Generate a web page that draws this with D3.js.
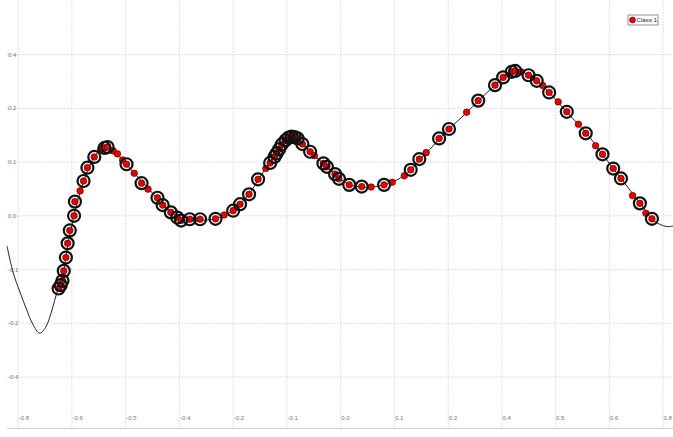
<!DOCTYPE html>
<html>
<head>
<meta charset="utf-8">
<script src="https://cdn.jsdelivr.net/npm/d3@7"></script>
<style>
  body { margin: 0; background: #fff; }
  svg { display: block; font-family: "Liberation Sans", Arial, sans-serif; }
</style>
</head>
<body>
<svg id="chart" width="673" height="437"></svg>
<script>
// tick positions and the labels the chart prints for them
const xTicks = [-0.75, -0.625, -0.5, -0.375, -0.25, -0.125, 0, 0.125, 0.25, 0.375, 0.5, 0.625, 0.75];
const xTickLabels = ["-0.8", "-0.6", "-0.5", "-0.4", "-0.2", "-0.1", "0.0", "0.1", "0.2", "0.4", "0.5", "0.6", "0.8"];
const yTicks = [0.375, 0.25, 0.125, 0, -0.125, -0.25, -0.375];
const yTickLabels = ["0.4", "0.2", "0.1", "0.0", "-0.1", "-0.2", "-0.4"];

// fitted curve
const curveX = [-0.776, -0.762, -0.746, -0.730, -0.716, -0.700, -0.686, -0.674, -0.665, -0.657, -0.646, -0.639, -0.634, -0.627, -0.620, -0.613, -0.604, -0.595, -0.583, -0.572, -0.558, -0.544, -0.530, -0.509, -0.481, -0.448, -0.416, -0.392, -0.371, -0.351, -0.327, -0.292, -0.271, -0.251, -0.232, -0.213, -0.192, -0.174, -0.155, -0.137, -0.123, -0.111, -0.099, -0.083, -0.062, -0.039, -0.013, 0.019, 0.050, 0.073, 0.101, 0.122, 0.147, 0.164, 0.185, 0.208, 0.231, 0.252, 0.292, 0.320, 0.359, 0.380, 0.399, 0.413, 0.429, 0.457, 0.485, 0.524, 0.571, 0.608, 0.652, 0.697, 0.724, 0.743, 0.759, 0.773];
const curveY = [-0.070, -0.131, -0.177, -0.219, -0.252, -0.273, -0.259, -0.228, -0.196, -0.170, -0.138, -0.096, -0.063, -0.031, 0.002, 0.032, 0.060, 0.088, 0.118, 0.139, 0.154, 0.160, 0.153, 0.132, 0.100, 0.065, 0.027, 0.007, -0.007, -0.012, -0.011, -0.007, 0.001, 0.012, 0.030, 0.051, 0.083, 0.111, 0.139, 0.167, 0.181, 0.184, 0.181, 0.162, 0.140, 0.121, 0.096, 0.073, 0.067, 0.067, 0.072, 0.079, 0.093, 0.107, 0.132, 0.155, 0.181, 0.202, 0.239, 0.267, 0.304, 0.323, 0.334, 0.337, 0.332, 0.314, 0.287, 0.243, 0.193, 0.144, 0.087, 0.029, -0.007, -0.020, -0.025, -0.024];

// Class 1 samples; ringed = 1 when the sample has the black ring
const pointsX = [-0.656, -0.651, -0.647, -0.644, -0.639, -0.635, -0.630, -0.620, -0.618, -0.606, -0.598, -0.589, -0.573, -0.558, -0.549, -0.542, -0.529, -0.519, -0.507, -0.498, -0.480, -0.463, -0.448, -0.426, -0.414, -0.395, -0.380, -0.371, -0.351, -0.327, -0.291, -0.271, -0.250, -0.234, -0.213, -0.192, -0.174, -0.164, -0.154, -0.149, -0.143, -0.137, -0.128, -0.121, -0.114, -0.107, -0.100, -0.089, -0.071, -0.061, -0.040, -0.032, -0.013, -0.004, 0.020, 0.049, 0.071, 0.101, 0.120, 0.148, 0.163, 0.183, 0.199, 0.229, 0.252, 0.293, 0.320, 0.359, 0.378, 0.398, 0.406, 0.420, 0.437, 0.456, 0.470, 0.485, 0.506, 0.526, 0.553, 0.570, 0.593, 0.609, 0.634, 0.652, 0.679, 0.696, 0.710, 0.724];
const pointsY = [-0.169, -0.161, -0.151, -0.128, -0.097, -0.064, -0.034, 0.000, 0.033, 0.058, 0.081, 0.112, 0.137, 0.155, 0.158, 0.160, 0.151, 0.144, 0.130, 0.120, 0.099, 0.076, 0.062, 0.042, 0.025, 0.008, -0.004, -0.011, -0.008, -0.008, -0.007, 0.002, 0.012, 0.027, 0.050, 0.085, 0.110, 0.123, 0.137, 0.145, 0.155, 0.166, 0.176, 0.182, 0.184, 0.183, 0.180, 0.167, 0.149, 0.140, 0.122, 0.114, 0.097, 0.086, 0.072, 0.068, 0.067, 0.072, 0.078, 0.093, 0.107, 0.132, 0.147, 0.180, 0.202, 0.241, 0.268, 0.304, 0.322, 0.335, 0.337, 0.335, 0.327, 0.314, 0.303, 0.287, 0.265, 0.242, 0.213, 0.192, 0.163, 0.143, 0.110, 0.087, 0.047, 0.029, 0.006, -0.007];
const ringed = [1, 1, 1, 1, 1, 1, 1, 1, 1, 0, 1, 1, 1, 0, 1, 1, 0, 0, 0, 1, 0, 1, 0, 1, 1, 1, 1, 1, 1, 1, 1, 0, 1, 1, 1, 1, 0, 1, 1, 1, 1, 1, 1, 1, 1, 1, 1, 1, 1, 0, 1, 1, 1, 1, 1, 1, 0, 1, 0, 0, 1, 1, 0, 1, 1, 0, 1, 1, 1, 1, 1, 0, 1, 1, 0, 1, 0, 1, 0, 1, 0, 1, 1, 1, 0, 1, 0, 1];

const seriesName = "Class 1";

const plotL = 7, plotR = 673, plotT = 0, plotB = 428;

const svg = d3.select("#chart");

const x = d3.scaleLinear().domain([-0.776, 0.773]).range([plotL, plotR]);
const y = d3.scaleLinear().domain([-0.4935, 0.502]).range([plotB, plotT]);

// grid
const grid = svg.append("g");
grid.selectAll(".vg").data(xTicks).enter().append("line")
  .attr("class", "vg")
  .attr("x1", d => x(d)).attr("x2", d => x(d))
  .attr("y1", plotT).attr("y2", plotB)
  .attr("stroke", "#e0e0e0").attr("stroke-width", 1)
  .attr("stroke-dasharray", "2,1");
grid.selectAll(".hg").data(yTicks).enter().append("line")
  .attr("class", "hg")
  .attr("x1", plotL).attr("x2", plotR)
  .attr("y1", d => y(d)).attr("y2", d => y(d))
  .attr("stroke", "#e0e0e0").attr("stroke-width", 1)
  .attr("stroke-dasharray", "2,1");

// bottom axis line
svg.append("line")
  .attr("x1", plotL).attr("x2", plotR)
  .attr("y1", plotB + 0.5).attr("y2", plotB + 0.5)
  .attr("stroke", "#cfcfcf").attr("stroke-width", 1.2);

// tick labels
svg.append("g").selectAll("text").data(xTicks).enter().append("text")
  .attr("x", d => x(d) + 0.5)
  .attr("y", 420)
  .attr("font-size", 6)
  .attr("fill", "#777")
  .text((d, i) => xTickLabels[i]);
svg.append("g").selectAll("text").data(yTicks).enter().append("text")
  .attr("x", 8)
  .attr("y", d => y(d) + 2)
  .attr("font-size", 6)
  .attr("fill", "#777")
  .text((d, i) => yTickLabels[i]);

// curve
const curvePts = curveX.map((v, i) => [v, curveY[i]]);
const line = d3.line()
  .x(d => x(d[0]))
  .y(d => y(d[1]))
  .curve(d3.curveCatmullRom);
svg.append("path")
  .datum(curvePts)
  .attr("d", line)
  .attr("fill", "none")
  .attr("stroke", "#222")
  .attr("stroke-width", 1);

const pts = pointsX.map((v, i) => ({ x: v, y: pointsY[i], ring: ringed[i] }));

// red samples
svg.append("g").selectAll("circle").data(pts).enter().append("circle")
  .attr("cx", d => x(d.x))
  .attr("cy", d => y(d.y))
  .attr("r", 3.3)
  .attr("fill", "#e60000")
  .attr("stroke", "#400")
  .attr("stroke-width", 0.6);

// rings
svg.append("g").selectAll("circle").data(pts.filter(d => d.ring)).enter().append("circle")
  .attr("cx", d => x(d.x))
  .attr("cy", d => y(d.y))
  .attr("r", 6)
  .attr("fill", "none")
  .attr("stroke", "#111")
  .attr("stroke-width", 2.2);

// legend
const lg = svg.append("g").attr("transform", "translate(628,15)");
lg.append("rect")
  .attr("x", 0).attr("y", 0).attr("width", 30).attr("height", 10)
  .attr("fill", "#fff").attr("stroke", "#777").attr("stroke-width", 0.8);
lg.append("circle")
  .attr("cx", 4.5).attr("cy", 5).attr("r", 3)
  .attr("fill", "#e60000").attr("stroke", "#400").attr("stroke-width", 0.5);
lg.append("text")
  .attr("x", 8.5).attr("y", 7.3)
  .attr("font-size", 6.2)
  .attr("fill", "#222")
  .text(seriesName);
</script>
</body>
</html>
